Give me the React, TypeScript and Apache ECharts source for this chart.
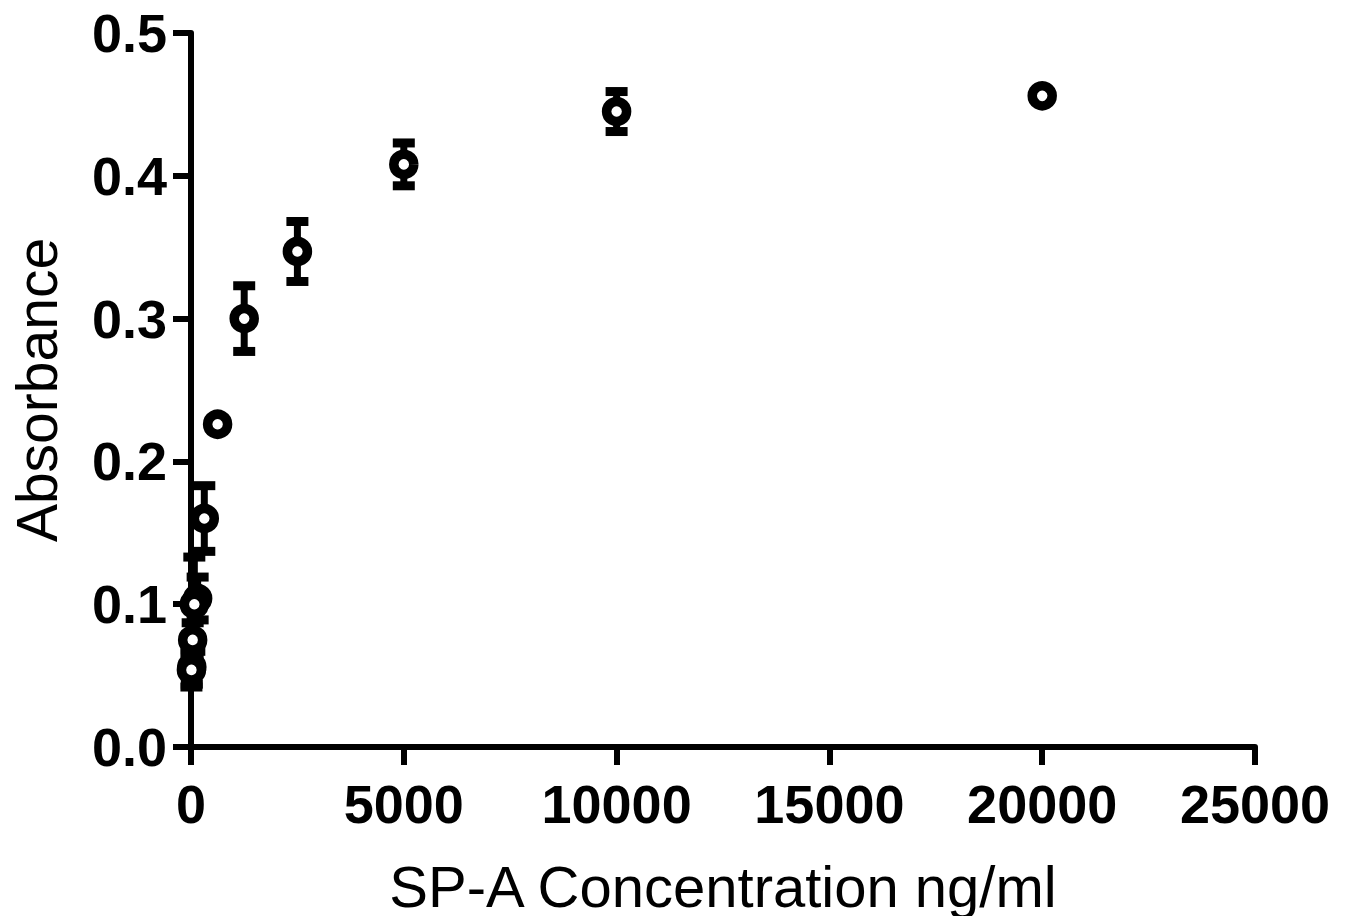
import React, { useEffect, useRef } from "react";
import * as echarts from "echarts";

const concentrations = [20000, 10000, 5000, 2500, 1250, 625, 312.5, 156, 78, 39, 19.5, 9.8];
const absorbance = [0.456, 0.445, 0.408, 0.347, 0.300, 0.226, 0.160, 0.104, 0.100, 0.075, 0.056, 0.054];
const errors = [0.003, 0.014, 0.015, 0.021, 0.023, 0.003, 0.023, 0.015, 0.033, 0.012, 0.012, 0.012];
const xTicks = [0, 5000, 10000, 15000, 20000, 25000];
const yTicks = [0, 0.1, 0.2, 0.3, 0.4, 0.5];
const xTitle = "SP-A Concentration ng/ml";
const yTitle = "Absorbance";

const FONT = "'Liberation Sans', Arial, Helvetica, sans-serif";

export default function App() {
  const ref = useRef<HTMLDivElement>(null);
  useEffect(() => {
    if (!ref.current) return;
    const chart = echarts.init(ref.current, undefined, { renderer: "svg" });
    const points = concentrations.map((c, i) => [c, absorbance[i]]);
    const bars = concentrations.map((c, i) => [c, absorbance[i] - errors[i], absorbance[i] + errors[i]]);
    const axisLine = { show: true, lineStyle: { color: "#000", width: 6 } };
    chart.setOption({
      animation: false,
      backgroundColor: "#fff",
      grid: { left: 186, right: 94, top: 33, bottom: 177, containLabel: false },
      xAxis: {
        type: "value",
        min: xTicks[0],
        max: xTicks[xTicks.length - 1],
        interval: xTicks[1] - xTicks[0],
        splitLine: { show: false },
        axisLine: { ...axisLine, onZero: false },
        axisTick: { show: true, length: 18, lineStyle: { color: "#000", width: 6 } },
        axisLabel: {
          color: "#000",
          fontFamily: FONT,
          fontWeight: "bold",
          fontSize: 54,
          margin: 30,
          formatter: (v: number) => String(v),
        },
        name: xTitle,
        nameLocation: "middle",
        nameGap: 110,
        nameTextStyle: { color: "#000", fontFamily: FONT, fontSize: 58 },
      },
      yAxis: {
        type: "value",
        min: yTicks[0],
        max: yTicks[yTicks.length - 1],
        interval: yTicks[1] - yTicks[0],
        splitLine: { show: false },
        axisLine: { ...axisLine, onZero: false },
        axisTick: { show: true, length: 18, lineStyle: { color: "#000", width: 6 } },
        axisLabel: {
          color: "#000",
          fontFamily: FONT,
          fontWeight: "bold",
          fontSize: 54,
          margin: 24,
          formatter: (v: number) => v.toFixed(1),
        },
        name: yTitle,
        nameLocation: "middle",
        nameRotate: 90,
        nameGap: 126,
        nameTextStyle: { color: "#000", fontFamily: FONT, fontSize: 57 },
      },
      series: [
        {
          type: "custom",
          data: bars,
          z: 2,
          renderItem: (params: any, api: any) => {
            const x = api.value(0);
            const lo = api.value(1);
            const hi = api.value(2);
            const top = api.coord([x, hi]);
            const bot = api.coord([x, lo]);
            const style = { fill: "#000" };
            return {
              type: "group",
              children: [
                { type: "rect", shape: { x: top[0] - 3.5, y: top[1], width: 7, height: bot[1] - top[1] }, style },
                { type: "rect", shape: { x: top[0] - 11, y: top[1] - 4.5, width: 22, height: 9 }, style },
                { type: "rect", shape: { x: bot[0] - 11, y: bot[1] - 4.5, width: 22, height: 9 }, style },
              ],
            };
          },
        },
        {
          type: "scatter",
          data: points,
          z: 3,
          symbol: "circle",
          symbolSize: 20,
          itemStyle: { color: "#fff", borderColor: "#000", borderWidth: 9.5, opacity: 1 },
        },
      ],
    });
    return () => chart.dispose();
  }, []);
  return <div ref={ref} style={{ width: 1349, height: 924, margin: -8 }} />;
}
